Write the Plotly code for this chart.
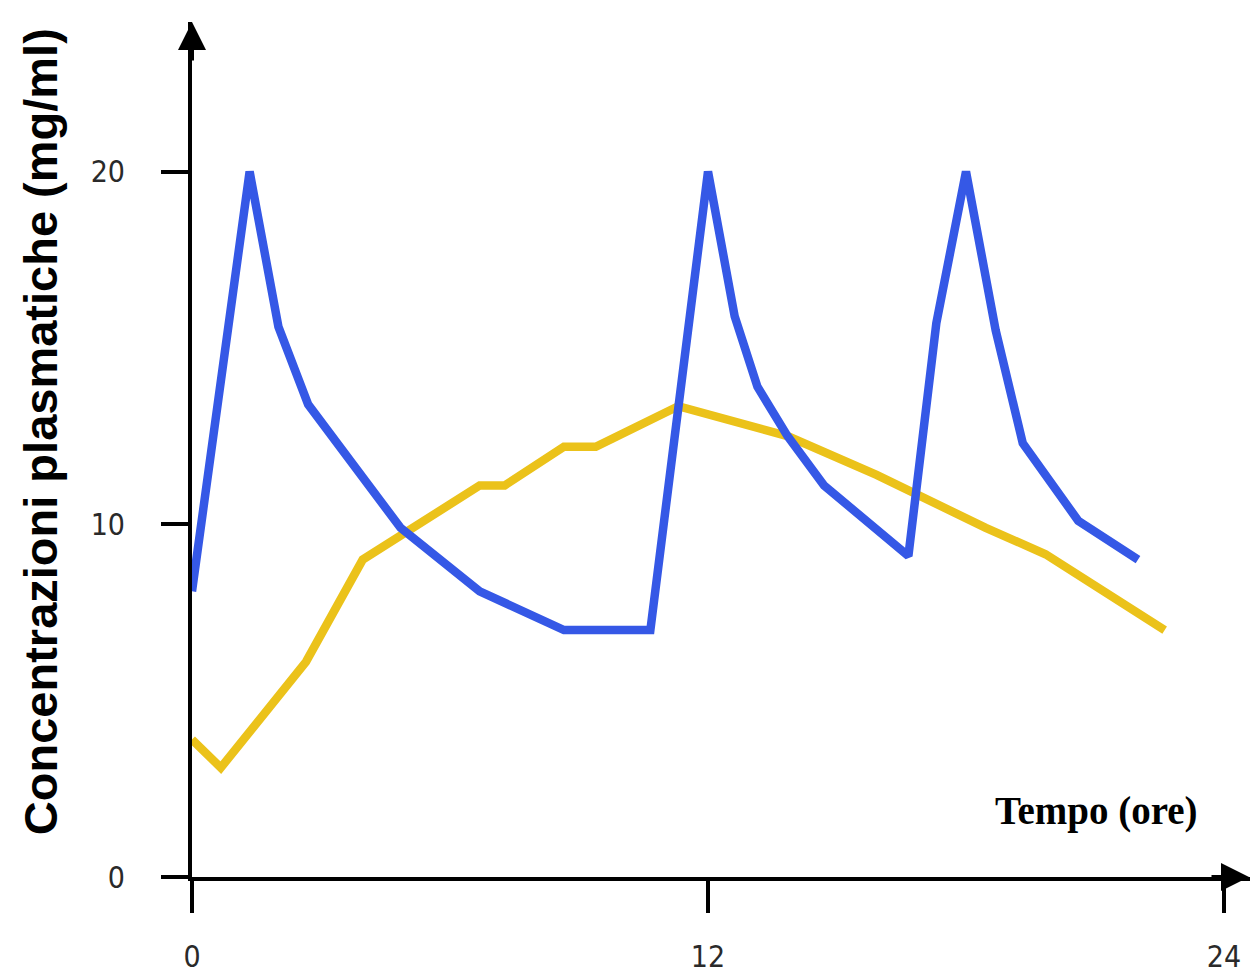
import plotly.graph_objects as go

# Plasma concentration over time (hours) for two dosing regimens
hours_blue = [0, 1.34, 2.01, 2.70, 4.85, 6.69, 8.65, 10.66, 12.0, 12.62, 13.15,
              13.85, 14.70, 16.66, 17.31, 18.0, 18.69, 19.32, 20.61, 22.0]
conc_blue = [8.1, 20, 15.6, 13.4, 9.9, 8.1, 7.0, 7.0, 20, 15.9, 13.9,
             12.5, 11.1, 9.1, 15.7, 20, 15.5, 12.3, 10.1, 9.0]

hours_yellow = [0, 0.67, 2.65, 3.97, 6.69, 7.27, 8.65, 9.39, 11.31, 13.85,
                15.92, 18.46, 19.85, 22.62]
conc_yellow = [3.9, 3.1, 6.1, 9.0, 11.1, 11.1, 12.2, 12.2, 13.35, 12.5,
               11.4, 9.9, 9.15, 7.0]

x_ticks = [0, 12, 24]
y_ticks = [0, 10, 20]

x_title = "Tempo (ore)"
y_title = "Concentrazioni plasmatiche (mg/ml)"

BLUE = "#3558E6"
YELLOW = "#EBC21A"

W, H = 1250, 974
M_L, M_R, M_T, M_B = 192, 0, 22, 89
plot_w = W - M_L - M_R
plot_h = H - M_T - M_B
px_per_hour = 43.0
px_per_unit = 35.6

fig = go.Figure()
fig.add_trace(go.Scatter(x=hours_yellow, y=conc_yellow, mode="lines",
                         line=dict(color=YELLOW, width=8.5), showlegend=False))
fig.add_trace(go.Scatter(x=hours_blue, y=conc_blue, mode="lines",
                         line=dict(color=BLUE, width=8.5), showlegend=False))

tick_font = dict(family="Liberation Sans Narrow, Arial Narrow, DejaVu Sans Condensed, sans-serif",
                 size=30, color="#2a2a2a")

fig.update_xaxes(range=[0, plot_w / px_per_hour], tickvals=x_ticks,
                 ticktext=[str(v) for v in x_ticks],
                 showline=True, linecolor="black", linewidth=4,
                 ticks="outside", ticklen=32, tickwidth=4, tickcolor="black",
                 ticklabelstandoff=18,
                 showgrid=False, zeroline=False, tickfont=tick_font)
fig.update_yaxes(range=[0, plot_h / px_per_unit], tickvals=y_ticks,
                 ticktext=[str(v) for v in y_ticks],
                 showline=True, linecolor="black", linewidth=4,
                 ticks="outside", ticklen=27, tickwidth=4, tickcolor="black",
                 ticklabelstandoff=30,
                 showgrid=False, zeroline=False, tickfont=tick_font)

annotations = [
    # arrow heads on the axes
    dict(xref="paper", x=1.0, yref="y", y=0, ax=-40, ay=0, text="",
         showarrow=True, arrowhead=2, arrowsize=1.4, arrowwidth=4,
         arrowcolor="black"),
    dict(xref="x", x=0, yref="paper", y=1.0, ax=0, ay=40, text="",
         showarrow=True, arrowhead=2, arrowsize=1.4, arrowwidth=4,
         arrowcolor="black"),
    # axis titles
    dict(xref="paper", x=(1200 - M_L) / plot_w, xanchor="right",
         yref="paper", y=(H - M_B - 818) / plot_h, yanchor="middle",
         text="<b>" + x_title + "</b>", showarrow=False,
         font=dict(family="Liberation Serif, Times New Roman, serif",
                   size=39, color="black")),
    dict(xref="paper", x=(40 - M_L) / plot_w, xanchor="center",
         yref="paper", y=(H - M_B - 436) / plot_h, yanchor="middle",
         text="<b>" + y_title + "</b>", showarrow=False, textangle=-90,
         font=dict(family="Liberation Sans, Arial, sans-serif",
                   size=47, color="black")),
]

fig.update_layout(width=W, height=H,
                  margin=dict(l=M_L, r=M_R, t=M_T, b=M_B, pad=0),
                  paper_bgcolor="white", plot_bgcolor="white",
                  annotations=annotations, showlegend=False)

fig.write_html("out.html")
